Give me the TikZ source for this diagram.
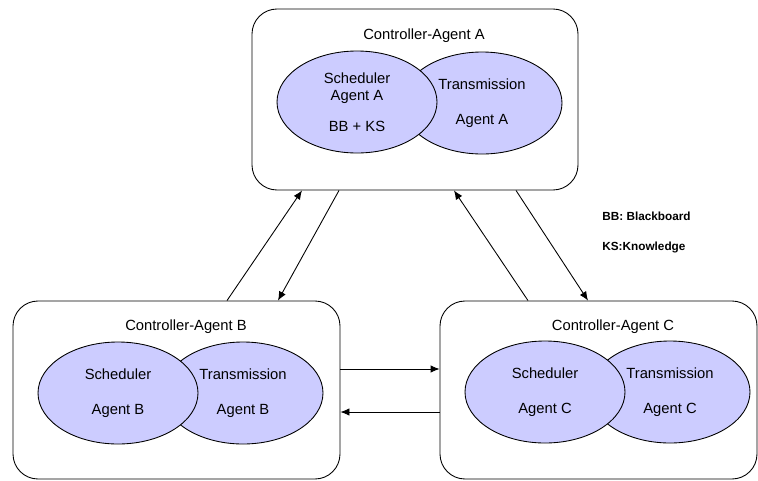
\documentclass[tikz,border=0pt]{standalone}
\usepackage{fontspec}
\setmainfont{Liberation Sans}
\usepackage{tikz}
\usetikzlibrary{arrows,arrows.meta}
\usetikzlibrary{shapes.geometric}

\definecolor{agentblue}{RGB}{204,204,255}

\tikzset{
    ctrl/.style={draw=black, line width=0.5pt, rounded corners=0.5cm,
        minimum height=3.56cm, inner sep=0pt},
    agent/.style={ellipse, draw=black, fill=agentblue, line width=0.5pt,
        minimum width=3.2cm, minimum height=2.04cm, inner sep=0pt,
        align=center, font=\fontsize{8.4pt}{10pt}\selectfont},
    title/.style={font=\fontsize{8.4pt}{10pt}\selectfont, inner sep=0pt},
    legend/.style={anchor=west, inner sep=0pt,
        font=\fontsize{6.7pt}{8pt}\selectfont\bfseries},
    flow/.style={line width=0.5pt, -{Latex[length=1.8mm,width=1.5mm]}}
}

\begin{document}
\begin{tikzpicture}
    \useasboundingbox (0, 0) rectangle (15.16, 9.6);

    % the three controller boxes
    \node[ctrl, minimum width=6.52cm, minimum height=3.62cm] (ctrlA) at (8.30, 7.61) {};
    \node[ctrl, minimum width=6.54cm] (ctrlB) at (3.53, 1.80) {};
    \node[ctrl, minimum width=6.34cm] (ctrlC) at (11.97, 1.80) {};

    \node[title] (titleA) at (8.48, 8.88) {Controller-Agent A};
    \node[title] (titleB) at (3.72, 3.06) {Controller-Agent B};
    \node[title] (titleC) at (12.26, 3.06) {Controller-Agent C};

    % transmission first, scheduler lies on top of it
    \node[agent] (transA) at (9.64, 7.54) {Transmission\\[9.9pt]Agent A};
    \node[agent] (schedA) at (7.14, 7.56) {Scheduler\\Agent A\\[7.6pt]BB + KS};

    \node[agent] (transB) at (4.86, 1.74) {Transmission\\[9.9pt]Agent B};
    \node[agent] (schedB) at (2.36, 1.74) {Scheduler\\[9.9pt]Agent B};

    \node[agent] (transC) at (13.40, 1.76) {Transmission\\[9.9pt]Agent C};
    \node[agent] (schedC) at (10.90, 1.76) {Scheduler\\[9.9pt]Agent C};

    \node[legend] (bb) at (12.04, 5.28) {BB: Blackboard};
    \node[legend] (ks) at (12.04, 4.66) {KS:Knowledge};

    % messages between the controllers
    \draw[flow] (ctrlB.north -| 4.54,0) -- (ctrlA.south -| 6.04,0);
    \draw[flow] (ctrlA.south -| 6.78,0) -- (ctrlB.north -| 5.56,0);
    \draw[flow] (ctrlC.north -| 10.56,0) -- (ctrlA.south -| 9.08,0);
    \draw[flow] (ctrlA.south -| 10.32,0) -- (ctrlC.north -| 11.76,0);

    \draw[flow] (ctrlB.east |- 0,2.22) -- (ctrlC.west |- 0,2.22);
    \draw[flow] (ctrlC.west |- 0,1.36) -- (ctrlB.east |- 0,1.36);
\end{tikzpicture}
\end{document}
